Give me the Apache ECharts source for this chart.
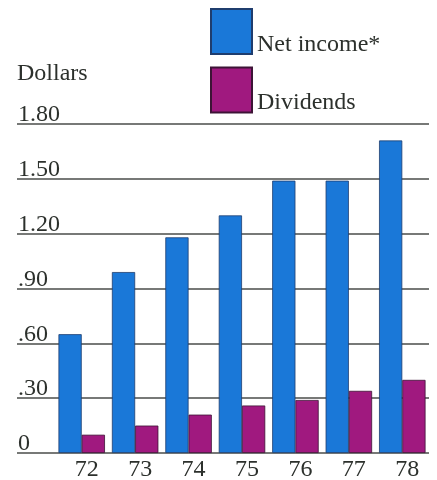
<!DOCTYPE html>
<html>
<head>
<meta charset="utf-8">
<script src="https://cdn.jsdelivr.net/npm/echarts@6/dist/echarts.min.js"></script>
<style>
html,body{margin:0;padding:0;background:#fff;}
#chart{width:437px;height:480px;}
</style>
</head>
<body>
<div id="chart"></div>
<script>
var years = ['72', '73', '74', '75', '76', '77', '78'];
var netIncome = [0.65, 0.99, 1.18, 1.30, 1.49, 1.49, 1.71];
var dividends = [0.10, 0.15, 0.21, 0.26, 0.29, 0.34, 0.40];
var yTickLabels = ['0', '.30', '.60', '.90', '1.20', '1.50', '1.80'];

var FONT = '"Liberation Serif", "DejaVu Serif", serif';
var TXT = '#2c302c';

var chart = echarts.init(document.getElementById('chart'), null, {renderer: 'canvas'});
chart.setOption({
  animation: false,
  backgroundColor: '#ffffff',
  textStyle: {fontFamily: FONT},
  title: {
    text: 'Dollars',
    left: 17,
    top: 62,
    padding: 0,
    textStyle: {fontFamily: FONT, fontSize: 24, fontWeight: 'normal', color: TXT}
  },
  legend: {
    orient: 'vertical',
    left: 210,
    top: 8,
    padding: 0,
    itemWidth: 41,
    itemHeight: 45,
    itemGap: 10,
    icon: 'rect',
    selectedMode: false,
    formatter: '{t|{name}}',
    textStyle: {
      fontFamily: FONT, fontSize: 24, color: TXT,
      rich: {t: {fontFamily: FONT, fontSize: 24, color: TXT, padding: [26, 0, 0, 0]}}
    },
    data: ['Net income*', 'Dividends']
  },
  grid: [
    {left: 17, right: 8, top: 124, bottom: 27, containLabel: false, outerBoundsMode: 'none'},
    {left: 55, right: 8, top: 124, bottom: 27, containLabel: false, outerBoundsMode: 'none'}
  ],
  xAxis: [
    {gridIndex: 0, type: 'value', min: 0, max: 1, show: false},
    {
      gridIndex: 1, type: 'category', data: years,
      axisLine: {show: false}, axisTick: {show: false},
      axisLabel: {fontFamily: FONT, fontSize: 24, color: TXT, margin: 5, padding: [0, 0, 0, 10]}
    }
  ],
  yAxis: [
    {
      gridIndex: 0, type: 'value', min: 0, max: 1.8, interval: 0.3,
      axisLine: {show: false}, axisTick: {show: false},
      splitLine: {show: true, lineStyle: {color: '#4a4d4a', width: 1.5}},
      axisLabel: {
        inside: true, margin: 1, verticalAlign: 'bottom', lineHeight: 18,
        fontFamily: FONT, fontSize: 24, color: TXT,
        formatter: function (v) { return yTickLabels[Math.round(v / 0.3)]; }
      }
    },
    {gridIndex: 1, type: 'value', min: 0, max: 1.8, interval: 0.3, show: false, splitLine: {show: false}}
  ],
  series: [
    {
      name: 'Net income*', type: 'bar', xAxisIndex: 1, yAxisIndex: 1,
      data: netIncome, barGap: '0%', barCategoryGap: '13%',
      itemStyle: {color: '#1a78d8', borderColor: '#1f3d6e', borderWidth: 0.8}
    },
    {
      name: 'Dividends', type: 'bar', xAxisIndex: 1, yAxisIndex: 1,
      data: dividends, barGap: '0%', barCategoryGap: '13%',
      itemStyle: {color: '#a0197f', borderColor: '#3d1436', borderWidth: 0.8}
    }
  ]
});
</script>
</body>
</html>
